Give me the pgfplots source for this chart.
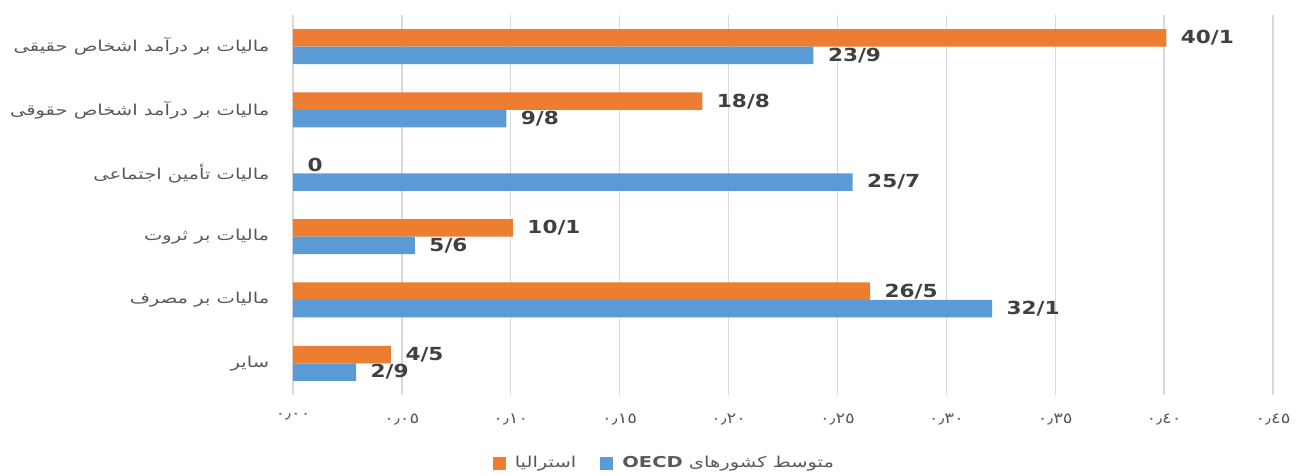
\documentclass[border=0pt]{standalone}
\usepackage{pgfplots}
\pgfplotsset{compat=1.18}
\usepackage{fontspec}
\setmainfont{DejaVu Sans}
\newfontfamily\arabicfont[Script=Arabic, FakeStretch=1.3]{DejaVu Sans}
\newfontfamily\digitfont[FakeStretch=1.2]{DejaVu Sans}
\newfontfamily\labelfont[FakeStretch=1.2]{DejaVu Sans Bold}
\TeXXeTstate=1
\definecolor{cOrange}{HTML}{ED7D31}
\definecolor{cBlue}{HTML}{5B9BD5}
\definecolor{cGrid}{HTML}{D9D9D9}
\definecolor{cText}{HTML}{595959}
\definecolor{cLabel}{HTML}{404040}
\begin{document}
\begin{tikzpicture}
\path[use as bounding box] (0,0) rectangle (1299pt,476pt);
\begin{axis}[
  at={(293pt,81pt)}, anchor=south west,
  scale only axis, width=980pt, height=380pt,
  xmin=0, xmax=45, ymin=-0.5, ymax=5.5,
  xtick={0,5,...,45},
  xticklabels={٠٫٠٠,٠٫٠٥,٠٫١٠,٠٫١٥,٠٫٢٠,٠٫٢٥,٠٫٣٠,٠٫٣٥,٠٫٤٠,٠٫٤٥},
  ytick={0,1,2,3,4,5},
  yticklabels={
    {\arabicfont\beginR سایر\endR},
    {\arabicfont\beginR مالیات بر مصرف\endR},
    {\arabicfont\beginR مالیات بر ثروت\endR},
    {\arabicfont\beginR مالیات تأمین اجتماعی\endR},
    {\arabicfont\beginR مالیات بر درآمد اشخاص حقوقی\endR},
    {\arabicfont\beginR مالیات بر درآمد اشخاص حقیقی\endR}},
  xmajorgrids, grid style={draw=cGrid, line width=1.3pt},
  axis line style={draw=none},
  tick style={draw=none},
  xticklabel style={font=\digitfont\fontsize{15}{18}\selectfont, text=cText, yshift=-15pt},
  yticklabel style={font=\fontsize{15}{18}\selectfont, text=cText, xshift=-16pt},
  xbar, bar width=17.5pt,
  point meta=explicit symbolic,
  nodes near coords,
  nodes near coords style={font=\labelfont\fontsize{18}{20}\selectfont, text=cLabel, anchor=west, xshift=11pt},
  legend style={draw=none, fill=none, at={(0.379,-0.179)}, anchor=center,
    font=\fontsize{15}{18}\selectfont, text=cText,
    /tikz/every even column/.append style={column sep=22pt}},
  legend columns=2,
]
\addplot[fill=cOrange, draw=none, bar shift=8.75pt,
  legend image code/.code={\fill[cOrange] (0pt,-6.5pt) rectangle (13pt,6.5pt); \path (20pt,0pt);}]
  coordinates {(40.1,5) [40/1] (18.8,4) [18/8] (0,3) [0] (10.1,2) [10/1] (26.5,1) [26/5] (4.5,0) [4/5]};
\addlegendentry{{\arabicfont\beginR استرالیا\endR}}
\addplot[fill=cBlue, draw=none, bar shift=-8.75pt,
  legend image code/.code={\fill[cBlue] (0pt,-6.5pt) rectangle (13pt,6.5pt); \path (20pt,0pt);}]
  coordinates {(23.9,5) [23/9] (9.8,4) [9/8] (25.7,3) [25/7] (5.6,2) [5/6] (32.1,1) [32/1] (2.9,0) [2/9]};
\addlegendentry{{\arabicfont\beginR متوسط کشورهای \beginL\textbf{OECD}\endL\endR}}
\end{axis}
\end{tikzpicture}
\end{document}
